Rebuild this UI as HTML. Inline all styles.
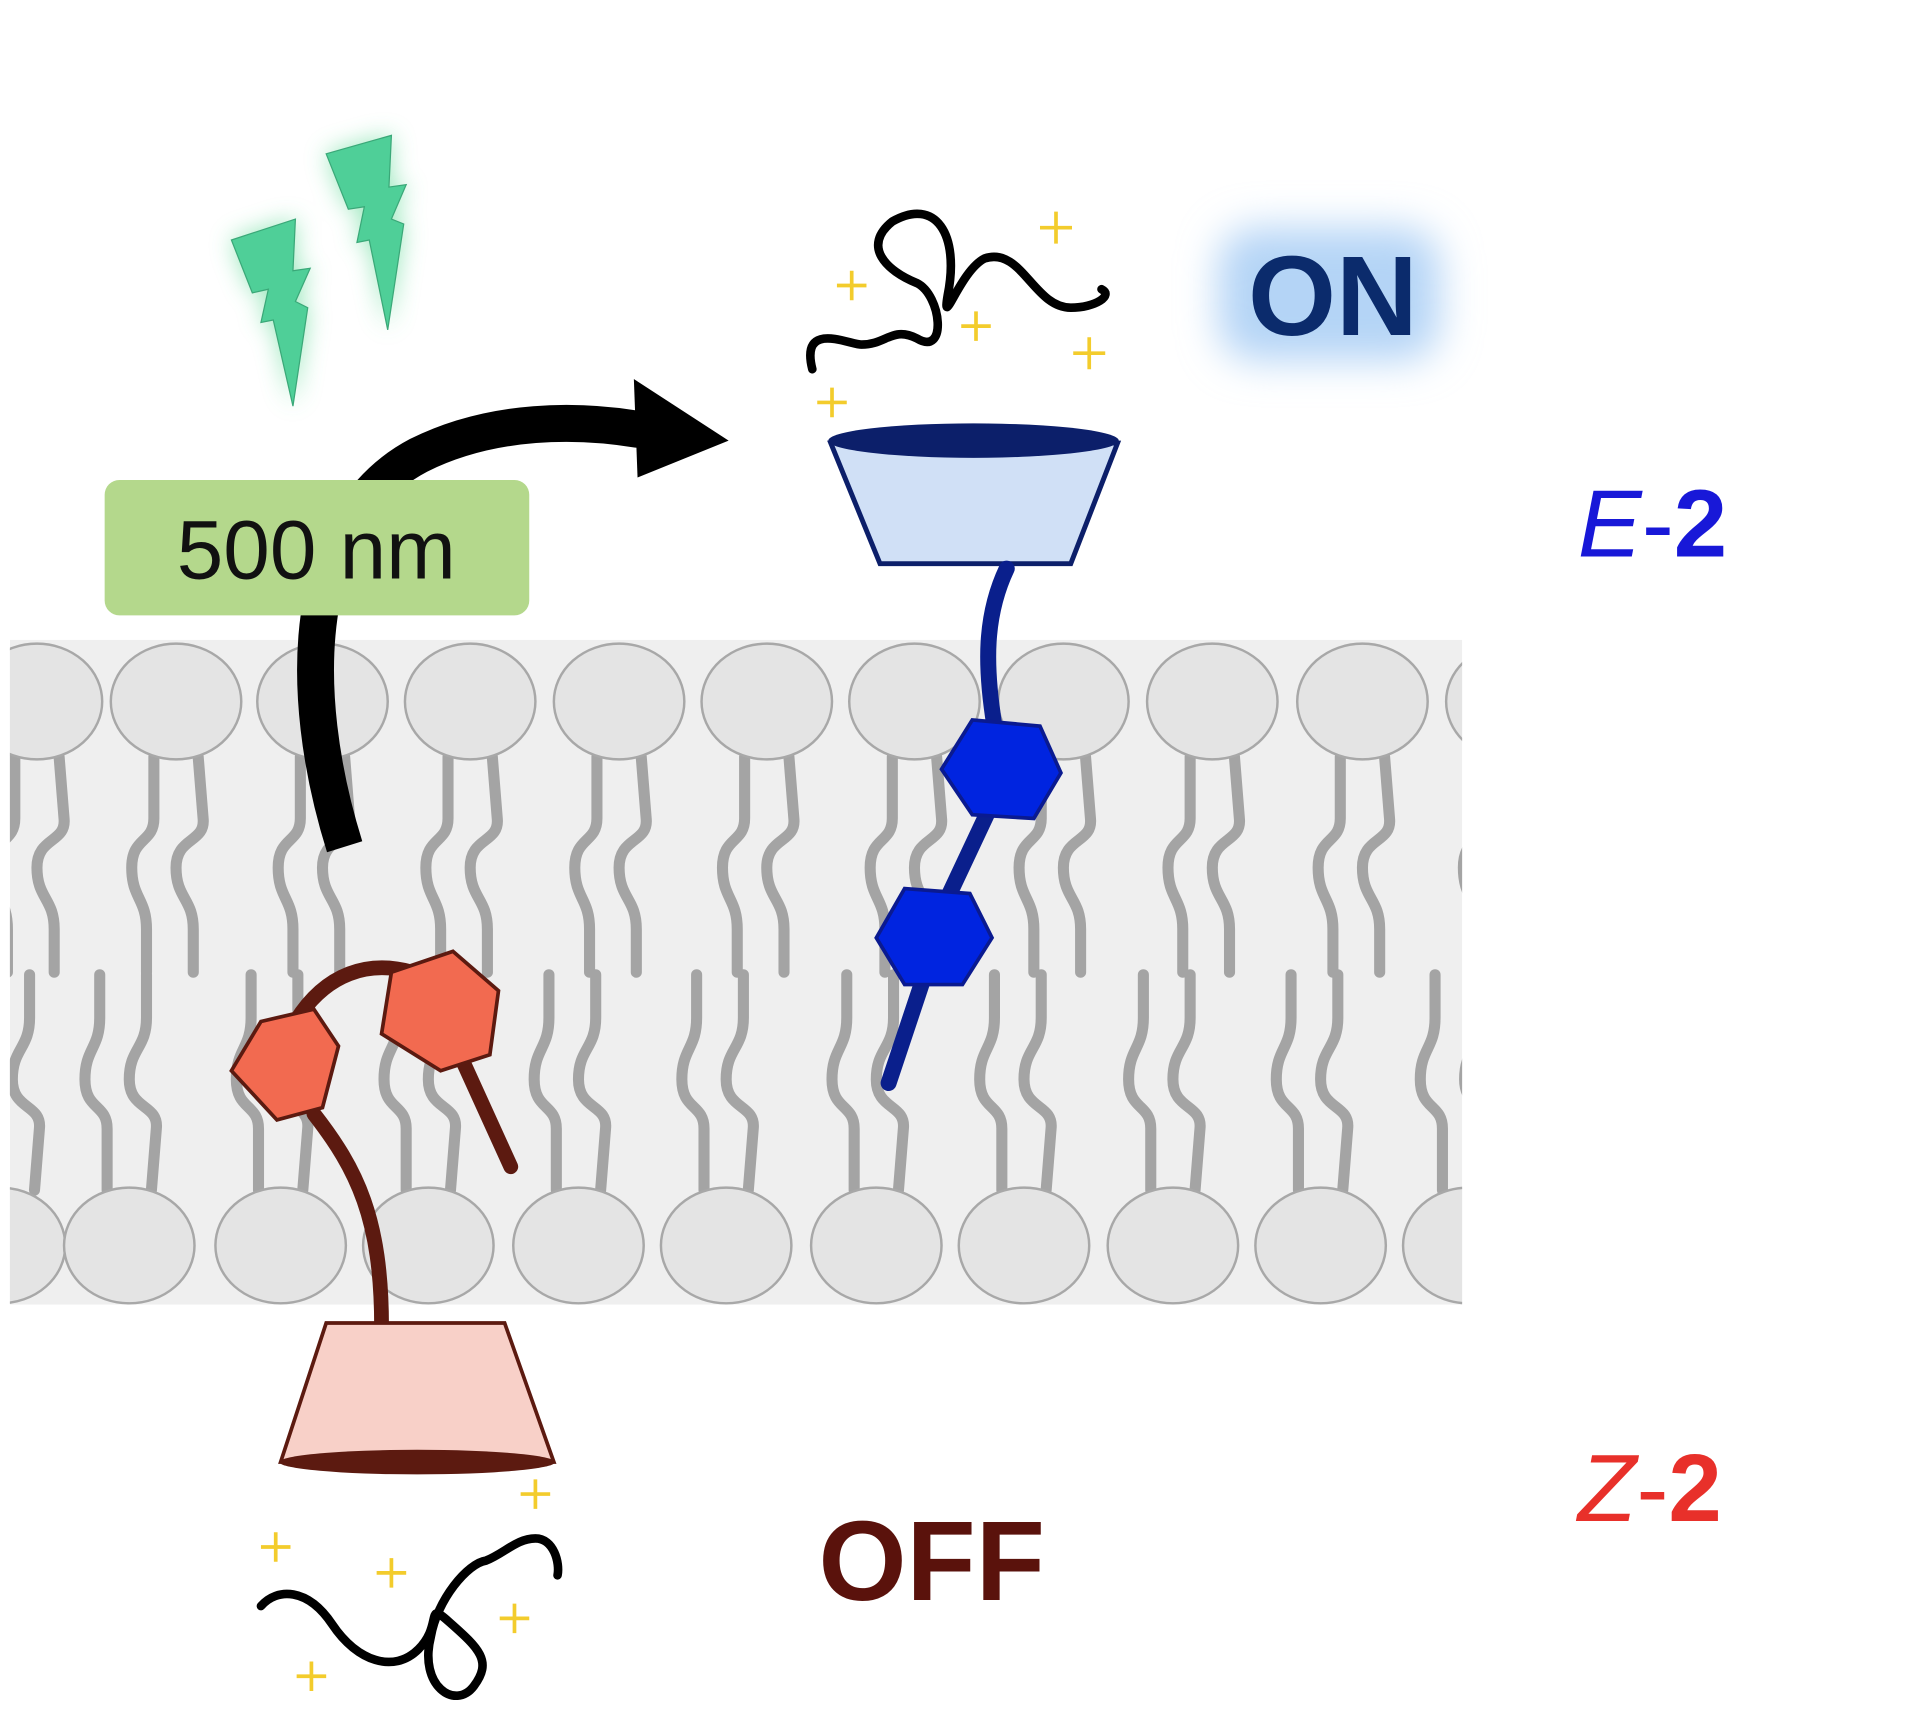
<!DOCTYPE html>
<html><head><meta charset="utf-8"><style>
html,body{margin:0;padding:0;background:#fff;}
svg{display:block;}
</style></head><body>
<svg width="1920" height="1731" viewBox="0 0 1560 1406.5" xmlns="http://www.w3.org/2000/svg">
<defs>
<filter id="glow" x="-50%" y="-50%" width="200%" height="200%"><feGaussianBlur stdDeviation="10"/></filter>
<filter id="blur2" x="-50%" y="-50%" width="200%" height="200%"><feGaussianBlur stdDeviation="16"/></filter>
<clipPath id="mem"><rect x="8" y="500" width="1180" height="580"/></clipPath>
<g id="tt" fill="none" stroke="#a4a4a4" stroke-width="9" stroke-linecap="round">
  <path d="M-18 45 L-18 95 C-18 115 -36 110 -36 135 C-36 160 -24 160 -24 185 L-24 220"/>
  <path d="M18 45 L22 95 C24 115 0 110 0 135 C0 160 14 160 14 185 L14 220"/>
</g>
<g id="tb" fill="none" stroke="#a4a4a4" stroke-width="9" stroke-linecap="round">
  <path d="M-18 -45 L-18 -95 C-18 -115 -36 -110 -36 -135 C-36 -160 -24 -160 -24 -185 L-24 -220"/>
  <path d="M18 -45 L22 -95 C24 -115 0 -110 0 -135 C0 -160 14 -160 14 -185 L14 -220"/>
</g>
<ellipse id="hd" cx="0" cy="0" rx="53" ry="47" fill="#e4e4e4" stroke="#a8a8a8" stroke-width="2"/>
</defs>

<rect width="1560" height="1406.5" fill="#fff"/>

<g clip-path="url(#mem)">
<rect x="8" y="520" width="1180" height="540" fill="#efefef"/>
<g transform="translate(0,570)">
<use href="#tt" x="30"/><use href="#tt" x="143"/><use href="#tt" x="262"/><use href="#tt" x="382"/><use href="#tt" x="503"/><use href="#tt" x="623"/><use href="#tt" x="743"/><use href="#tt" x="864"/><use href="#tt" x="985"/><use href="#tt" x="1107"/><use href="#tt" x="1225"/>
</g>
<g transform="translate(0,1012)">
<use href="#tb" x="10"/><use href="#tb" x="105"/><use href="#tb" x="228"/><use href="#tb" x="348"/><use href="#tb" x="470"/><use href="#tb" x="590"/><use href="#tb" x="712"/><use href="#tb" x="832"/><use href="#tb" x="953"/><use href="#tb" x="1073"/><use href="#tb" x="1190"/>
</g>
<g transform="translate(0,570)">
<use href="#hd" x="30"/><use href="#hd" x="143"/><use href="#hd" x="262"/><use href="#hd" x="382"/><use href="#hd" x="503"/><use href="#hd" x="623"/><use href="#hd" x="743"/><use href="#hd" x="864"/><use href="#hd" x="985"/><use href="#hd" x="1107"/><use href="#hd" x="1228"/>
</g>
<g transform="translate(0,1012)">
<use href="#hd" x="0"/><use href="#hd" x="105"/><use href="#hd" x="228"/><use href="#hd" x="348"/><use href="#hd" x="470"/><use href="#hd" x="590"/><use href="#hd" x="712"/><use href="#hd" x="832"/><use href="#hd" x="953"/><use href="#hd" x="1073"/><use href="#hd" x="1193"/>
</g>
</g>

<g filter="url(#glow)" fill="#7be0a8" opacity="0.8">
<polygon points="188,195 240,178 238,220 252,218 240,245 250,250 238,330 222,260 212,262 218,235 205,238"/>
<polygon points="265,125 318,110 316,152 330,150 318,178 328,182 315,268 300,195 290,197 296,168 283,170"/>
</g>
<g fill="#4fcf98" stroke="#3aa878" stroke-width="1">
<polygon points="188,195 240,178 238,220 252,218 240,245 250,250 238,330 222,260 212,262 218,235 205,238"/>
<polygon points="265,125 318,110 316,152 330,150 318,178 328,182 315,268 300,195 290,197 296,168 283,170"/>
</g>

<path d="M280 688 C240 560 245 420 340 370 C400 340 470 340 525 350" fill="none" stroke="#000" stroke-width="30"/>
<polygon points="515,308 592,358 518,388" fill="#000"/>

<rect x="85" y="390" width="345" height="110" rx="12" fill="#b4d88c"/>
<text x="257" y="470" font-family="'Liberation Sans',sans-serif" font-size="68" text-anchor="middle" fill="#111">500 nm</text>

<path d="M660 300 C650 260 690 280 700 280 C720 280 725 265 745 275 C770 290 765 240 745 230 C720 220 700 200 725 180 C760 160 780 190 770 240 C765 270 780 220 800 210 C830 200 840 250 870 250 C890 250 905 240 895 235" fill="none" stroke="#000" stroke-width="7" stroke-linecap="round"/>
<g stroke="#f3cc2c" stroke-width="3" fill="none">
<path d="M858 172v26M845 185h26"/><path d="M692 220v24M680 232h24"/><path d="M793 253v24M781 265h24"/><path d="M885 274v26M872 287h26"/><path d="M676 315v24M664 327h24"/>
<path d="M435 1202v24M423 1214h24"/><path d="M224 1245v24M212 1257h24"/><path d="M318 1266v24M306 1278h24"/><path d="M418 1303v24M406 1315h24"/><path d="M253 1350v24M241 1362h24"/>
</g>

<polygon points="675,360 908,360 870,458 715,458" fill="#d0e0f6" stroke="#0c1f6a" stroke-width="4"/>
<ellipse cx="791" cy="358" rx="118" ry="14" fill="#0c1f6a"/>
<path d="M818 462 C800 500 800 540 808 590 M812 640 L765 740 M752 790 L722 880" fill="none" stroke="#0a1f8c" stroke-width="13" stroke-linecap="round"/>
<polygon points="790,585 845,590 862,628 840,665 790,662 765,625" fill="#0024e0" stroke="#0a1a90" stroke-width="3"/>
<polygon points="735,722 788,726 806,762 782,800 735,800 712,762" fill="#0024e0" stroke="#0a1a90" stroke-width="3"/>

<rect x="990" y="185" width="180" height="108" rx="30" fill="#b4d4f6" filter="url(#blur2)"/>
<text x="1083" y="272" font-family="'Liberation Sans',sans-serif" font-weight="bold" font-size="92" text-anchor="middle" fill="#0b2b6c">ON</text>

<text x="1282" y="452" font-family="'Liberation Sans',sans-serif" font-size="78" fill="#1818d8"><tspan font-style="italic">E</tspan>-<tspan font-weight="bold">2</tspan></text>
<text x="1282" y="1236" font-family="'Liberation Sans',sans-serif" font-size="78" fill="#e8302a"><tspan font-style="italic">Z</tspan>-<tspan font-weight="bold">2</tspan></text>

<path d="M240 830 C265 790 300 780 335 790 M375 860 L415 948 M255 905 C290 950 310 990 310 1078" fill="none" stroke="#5c1a10" stroke-width="12" stroke-linecap="round"/>
<polygon points="212,830 255,820 275,850 262,900 225,910 188,870" fill="#f26a50" stroke="#5c1a10" stroke-width="3"/>
<polygon points="318,790 368,773 405,805 398,857 358,870 310,840" fill="#f26a50" stroke="#5c1a10" stroke-width="3"/>
<polygon points="265,1075 410,1075 450,1188 228,1188" fill="#f8d0c8" stroke="#5c1a10" stroke-width="3"/>
<ellipse cx="339" cy="1188" rx="112" ry="10" fill="#5c1a10"/>

<path d="M212 1305 C225 1290 250 1290 270 1320 C290 1350 320 1360 340 1340 C360 1320 345 1300 365 1318 C390 1340 400 1350 385 1370 C370 1390 340 1370 350 1330 C355 1300 380 1270 395 1268 C410 1262 420 1250 435 1250 C450 1250 455 1270 453 1280" fill="none" stroke="#000" stroke-width="7" stroke-linecap="round"/>

<text x="757" y="1300" font-family="'Liberation Sans',sans-serif" font-weight="bold" font-size="92" text-anchor="middle" fill="#5a120c">OFF</text>
</svg>
</body></html>
